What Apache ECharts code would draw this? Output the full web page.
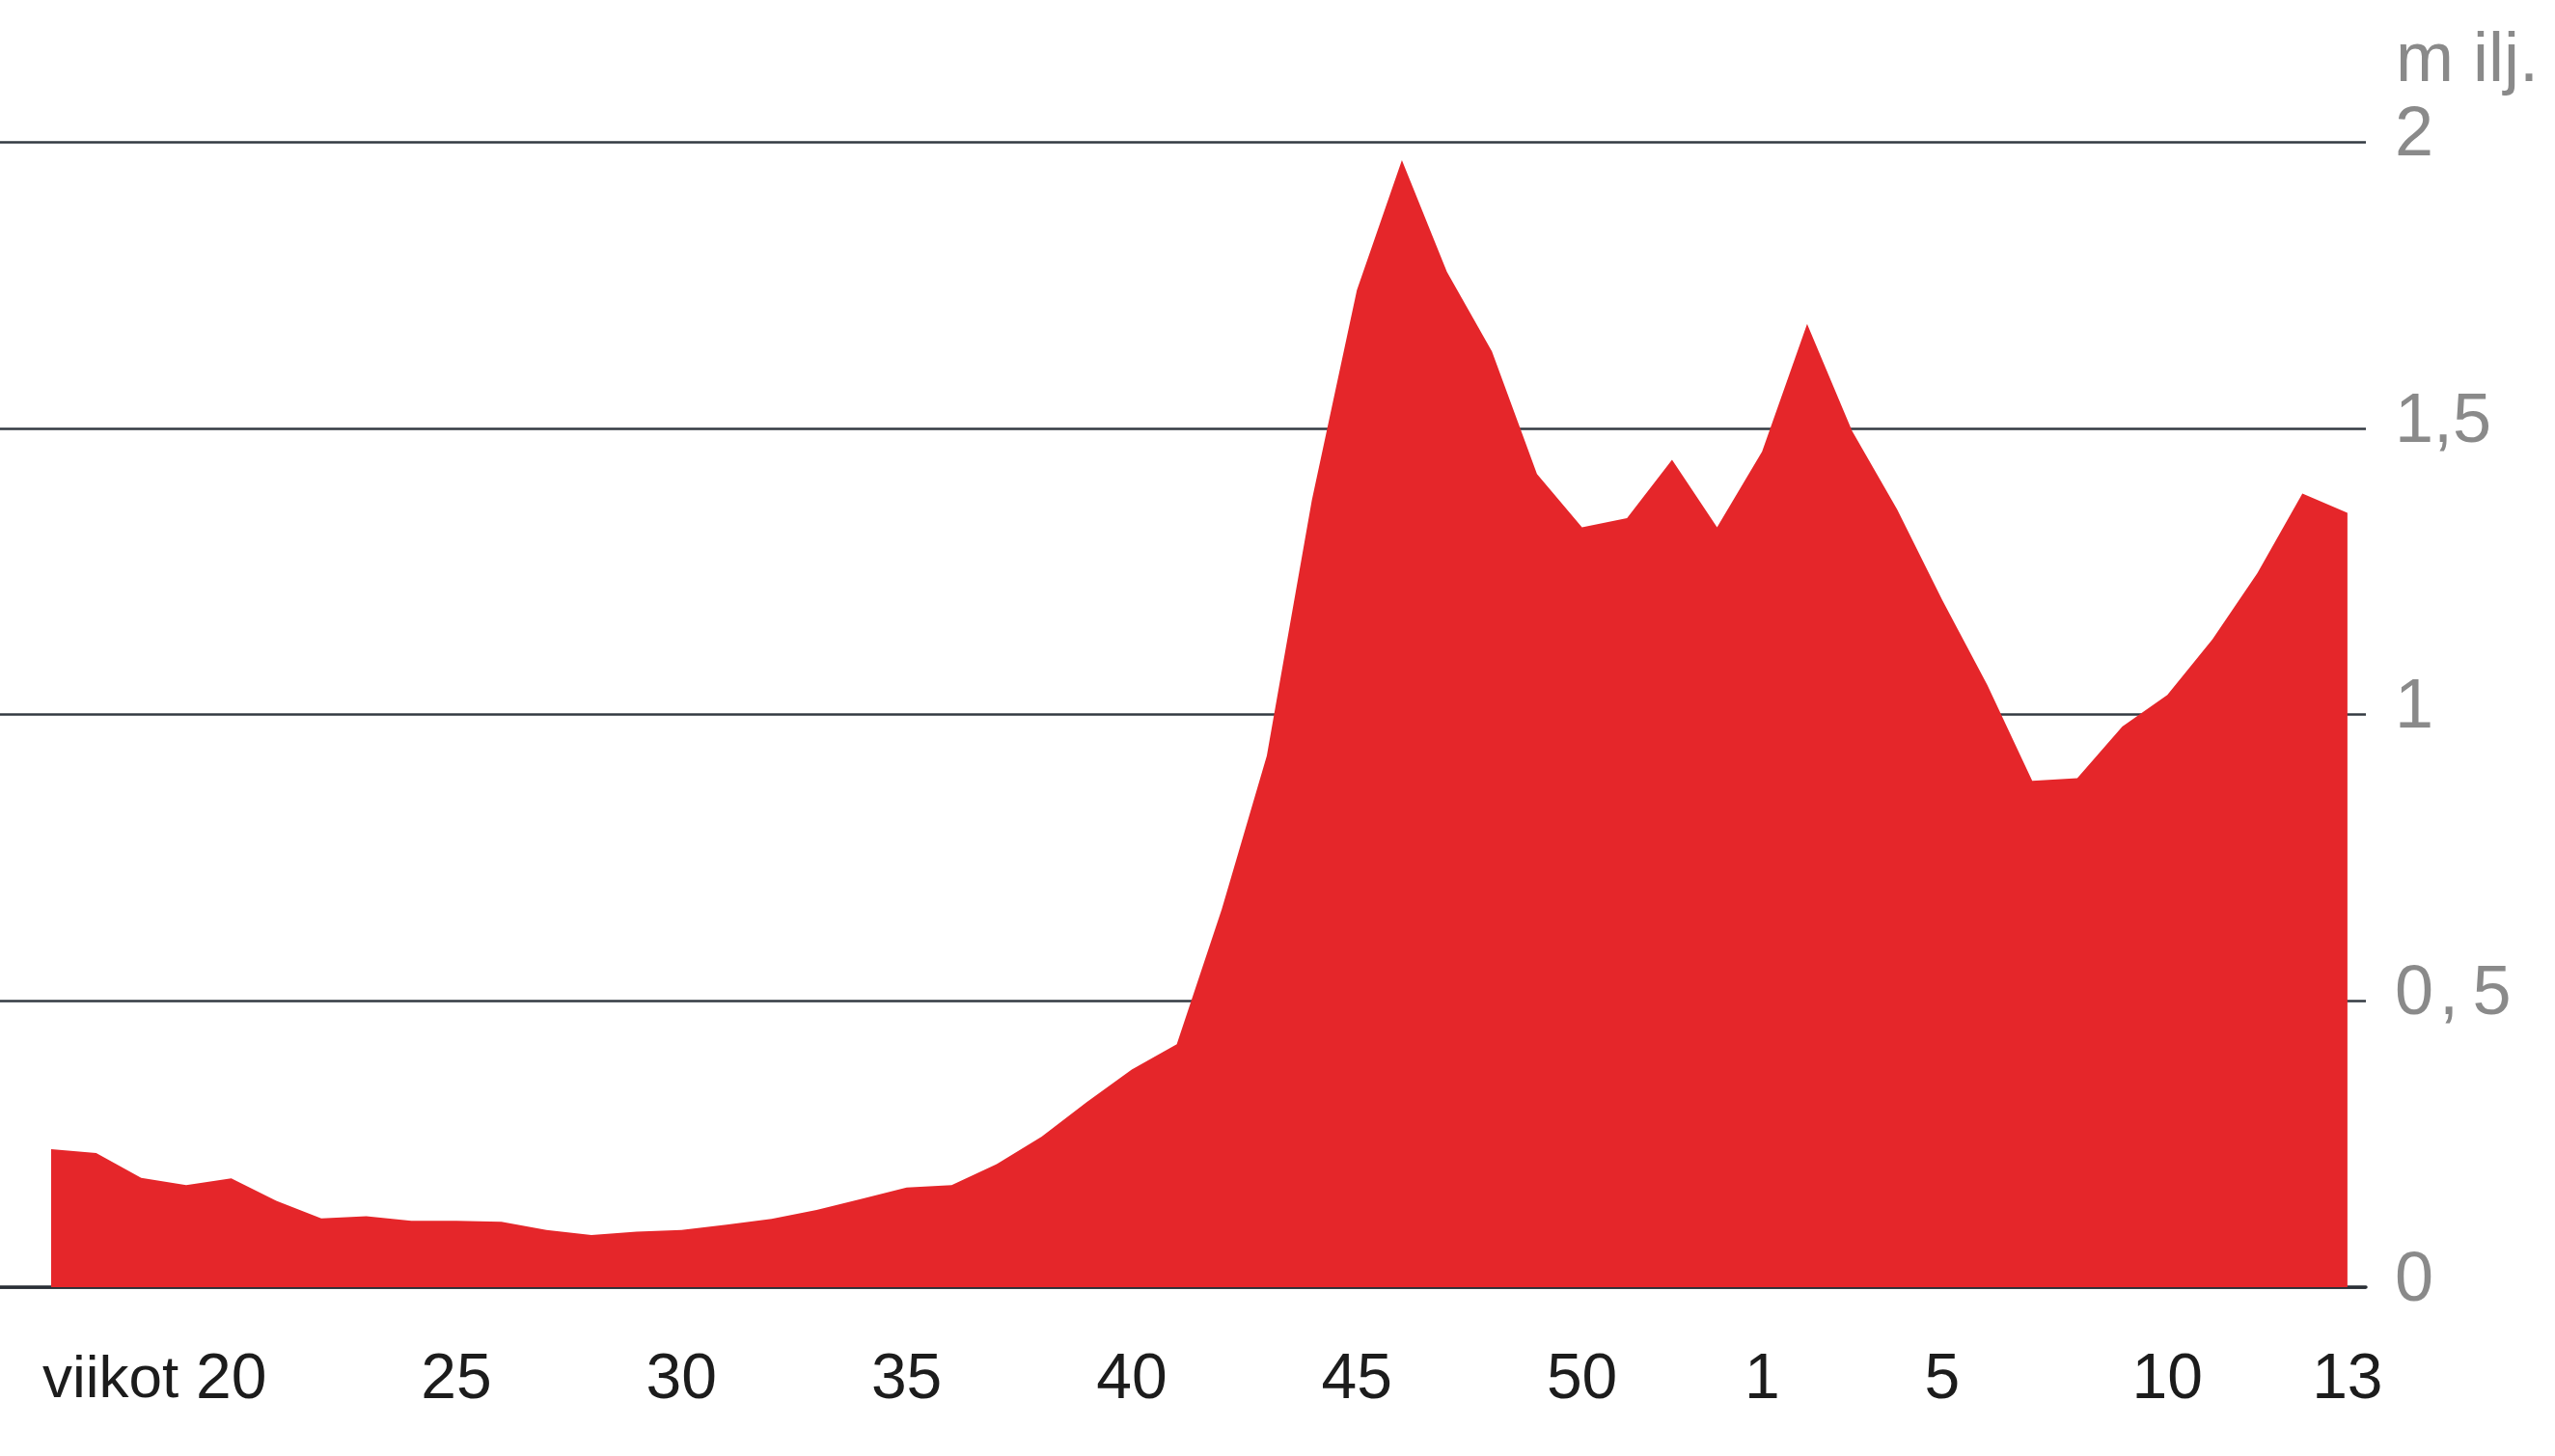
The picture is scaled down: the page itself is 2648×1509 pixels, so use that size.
<!DOCTYPE html>
<html>
<head>
<meta charset="utf-8">
<style>
  html, body { margin: 0; padding: 0; background: #ffffff; }
  #chart { width: 2648px; height: 1509px; }
</style>
<script src="https://cdn.jsdelivr.net/npm/echarts@6/dist/echarts.min.js"></script>
</head>
<body>
<div id="chart"></div>
<script>
// Weekly values (millions), weeks 16 .. 53, 1 .. 14 (52 points)
const values = [
  0.241, 0.234, 0.191, 0.178, 0.190, 0.151, 0.120, 0.124, 0.116, 0.116,
  0.114, 0.100, 0.091, 0.097, 0.100, 0.109, 0.119, 0.135, 0.154, 0.174,
  0.178, 0.215, 0.263, 0.323, 0.380, 0.424, 0.660, 0.928, 1.374, 1.741,
  1.968, 1.773, 1.634, 1.420, 1.327, 1.343, 1.445, 1.327, 1.459, 1.682,
  1.495, 1.358, 1.200, 1.052, 0.884, 0.889, 0.979, 1.034, 1.131, 1.247,
  1.386, 1.352
];
// x tick positions (point index) and their labels
const xTickIndex = [4, 9, 14, 19, 24, 29, 34, 38, 42, 47, 51];
const xTickLabels = ['20', '25', '30', '35', '40', '45', '50', '1', '5', '10', '13'];
// y ticks and labels
const yTickValues = [0, 0.5, 1, 1.5, 2];
const yTickLabels = ['0', '0\u200a,\u20095', '1', '1,5', '2'];
const unitLabel = 'm ilj.';
const xPrefix = 'viikot';

const chart = echarts.init(document.getElementById('chart'), null, { renderer: 'canvas' });

const seriesData = values.map((v, i) => [i, v]);

const option = {
  backgroundColor: '#ffffff',
  animation: false,
  grid: { left: 0, right: 196, top: 147, bottom: 175, containLabel: false },
  xAxis: {
    type: 'value',
    min: -1.136,
    max: 51.41,
    axisLine: { show: true, onZero: false, lineStyle: { color: '#2a2f36', width: 3.5 } },
    axisTick: { show: false },
    splitLine: { show: false },
    axisLabel: {
      customValues: xTickIndex,
      formatter: function (val) {
        const k = xTickIndex.indexOf(Math.round(val));
        return k >= 0 ? xTickLabels[k] : '';
      },
      margin: 64,
      color: '#1c1c1c',
      fontFamily: '"Liberation Sans", Arial, sans-serif',
      fontSize: 66
    }
  },
  yAxis: {
    type: 'value',
    position: 'right',
    min: 0,
    max: 2,
    interval: 0.5,
    axisLine: { show: false },
    axisTick: { show: false },
    splitLine: { show: true, lineStyle: { color: '#333a42', width: 2.5 } },
    axisLabel: {
      formatter: function (val) {
        const k = yTickValues.indexOf(val);
        return k >= 0 ? '{a|' + yTickLabels[k] + '}' : '';
      },
      margin: 30,
      align: 'left',
      verticalAlign: 'middle',
      rich: {
        a: {
          padding: [0, 0, 12, 0],
          color: '#8a8a8a',
          fontFamily: '"Liberation Sans", Arial, sans-serif',
          fontSize: 72
        }
      },
      color: '#8a8a8a',
      fontFamily: '"Liberation Sans", Arial, sans-serif',
      fontSize: 72
    }
  },
  graphic: [
    {
      type: 'text',
      left: 2483,
      top: 28,
      style: {
        text: unitLabel,
        fill: '#8a8a8a',
        font: '72px "Liberation Sans", Arial, sans-serif'
      }
    },
    {
      type: 'text',
      left: 44,
      top: 1400,
      style: {
        text: xPrefix,
        fill: '#1c1c1c',
        font: '62px "Liberation Sans", Arial, sans-serif'
      }
    }
  ],
  series: [
    {
      type: 'line',
      data: seriesData,
      symbol: 'none',
      lineStyle: { width: 0 },
      areaStyle: { color: '#e5262a', opacity: 1 },
      z: 3
    }
  ]
};

chart.setOption(option);
</script>
</body>
</html>
